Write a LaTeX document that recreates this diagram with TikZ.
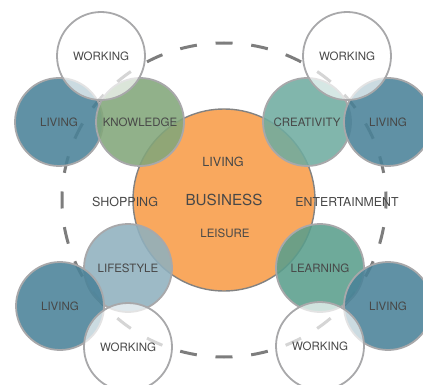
\documentclass[tikz,border=0pt]{standalone}
\usepackage{fontspec}
\setmainfont{TeX Gyre Heros}
\definecolor{livingc}{RGB}{74,130,152}
\definecolor{knowc}{RGB}{130,166,122}
\definecolor{creac}{RGB}{111,172,160}
\definecolor{lifec}{RGB}{143,176,190}
\definecolor{learnc}{RGB}{90,158,140}
\definecolor{orangec}{RGB}{249,168,94}
\definecolor{bordc}{RGB}{168,168,170}
\definecolor{obordc}{RGB}{130,130,130}
\definecolor{dashc}{RGB}{125,125,125}
\definecolor{txtc}{RGB}{72,72,72}
\tikzset{
  bub/.style={circle, minimum size=88pt, inner sep=0pt, draw=bordc, line width=1.8pt, fill opacity=0.88, draw opacity=1},
  work/.style={bub, fill=white, fill opacity=0.68},
  lbl/.style={text=txtc, inner sep=0pt, font=\fontsize{11.5}{13}\selectfont},
}
\begin{document}
\begin{tikzpicture}[x=1pt,y=-1pt]
\useasboundingbox (0,0) rectangle (423,385);
\clip (0,0) rectangle (423,385);
\coordinate (c) at (224,200);
% dashed ring
\draw[dashc, line width=3pt, dash pattern=on 17pt off 18.8pt, dash phase=8.5pt] (c) ellipse [x radius=162, y radius=157];
% business circle
\node[circle, minimum size=182pt, inner sep=0pt, fill=orangec, draw=obordc, line width=1.4pt] (biz) at (c) {};
% coloured circles
\node[bub, fill=livingc] (livtl) at (59,122) {};
\node[bub, fill=knowc] (know) at (140,122) {};
\node[bub, fill=creac] (crea) at (307,122) {};
\node[bub, fill=livingc] (livtr) at (388,122) {};
\node[bub, fill=lifec] (life) at (128,268) {};
\node[bub, fill=livingc] (livbl) at (60,306) {};
\node[bub, fill=learnc] (learn) at (320,268) {};
\node[bub, fill=livingc] (livbr) at (388,306) {};
% working circles
\node[work] (worktl) at (101,56) {};
\node[work] (worktr) at (347,56) {};
\node[work] (workbl) at (128,347) {};
\node[work] (workbr) at (320,346) {};
% labels
\node[lbl] at (worktl) {WORKING};
\node[lbl] at (worktr) {WORKING};
\node[lbl] at (workbl) {WORKING};
\node[lbl] at (workbr) {WORKING};
\node[lbl] at (livtl) {LIVING};
\node[lbl] at (livtr) {LIVING};
\node[lbl] at (livbl) {LIVING};
\node[lbl] at (livbr) {LIVING};
\node[lbl] at (know) {KNOWLEDGE};
\node[lbl] at (crea) {CREATIVITY};
\node[lbl] at (life) {LIFESTYLE};
\node[lbl] at (learn) {LEARNING};
\node[lbl, font=\fontsize{15.2}{18}\selectfont] (biztxt) at (biz) {BUSINESS};
\node[lbl, font=\fontsize{12.6}{14}\selectfont] at (223,162) {LIVING};
\node[lbl, font=\fontsize{11.5}{13}\selectfont] at (225,233) {LEISURE};
\node[lbl, font=\fontsize{12.5}{14}\selectfont] at (125,202) {SHOPPING};
\node[lbl, font=\fontsize{12.3}{14}\selectfont] at (347,202) {ENTERTAINMENT};
\end{tikzpicture}
\end{document}
